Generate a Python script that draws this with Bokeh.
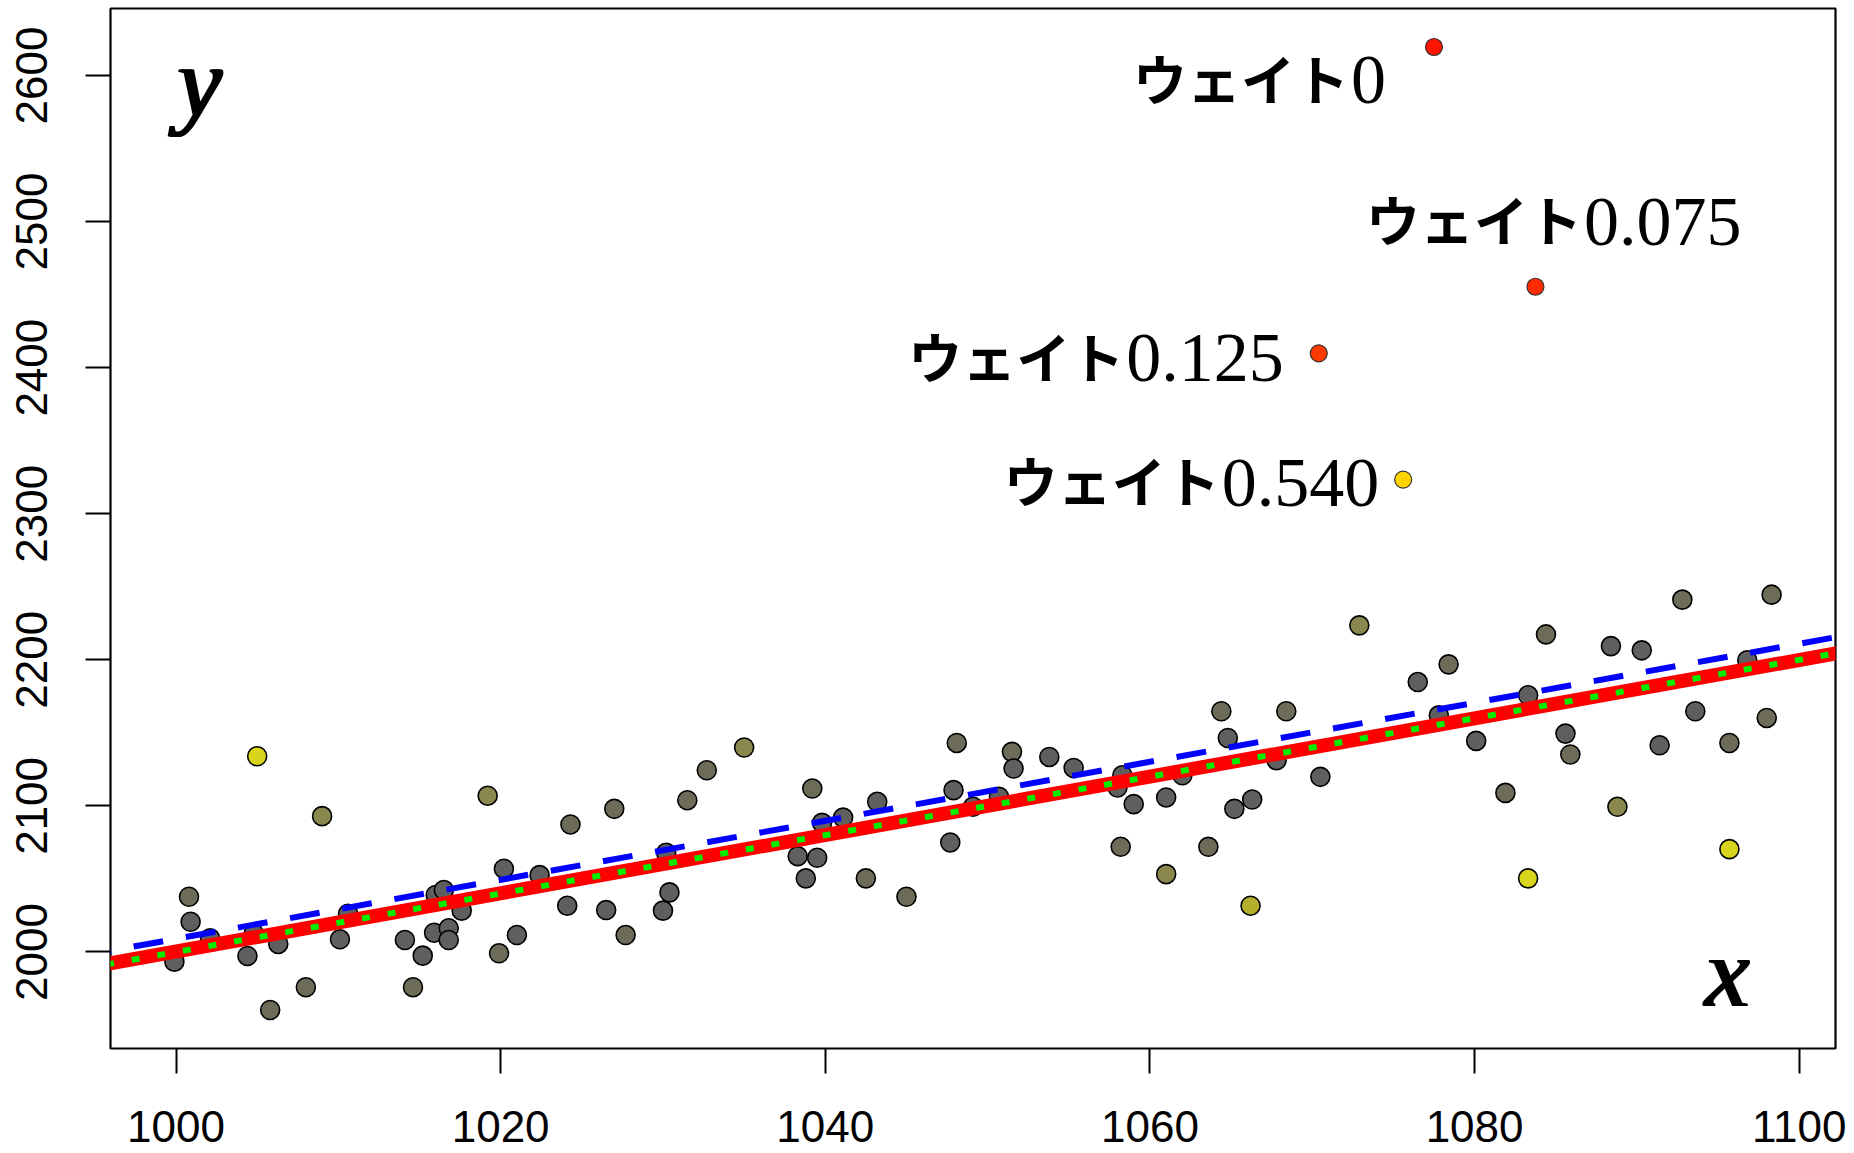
import math
from bokeh.plotting import figure
from bokeh.models import ColumnDataSource, Range1d, FixedTicker
from bokeh.core.properties import value
from bokeh.embed import file_html
from bokeh.resources import INLINE

# ---------------- data ----------------
# main cloud of points (x, y, colour class)
pt_x = [1005.0, 1009.0, 1019.2, 1020.2, 1000.8, 1000.9, 999.9, 1002.1, 1004.8, 1004.4,
        1006.3, 1005.8, 1008.0, 1010.6, 1010.1, 1014.1, 1014.6, 1015.2, 1015.9, 1016.8,
        1016.8, 1016.0, 1016.5, 1017.6, 1019.9, 1021.0, 1022.4,
        1024.3, 1027.0, 1031.5, 1032.7, 1035.0, 1024.1, 1026.5, 1027.7, 1030.2, 1030.4,
        1030.0, 1038.3, 1039.5, 1038.8, 1039.2, 1039.8, 1041.1, 1043.2, 1042.5, 1045.0,
        1048.1, 1047.9, 1049.1, 1047.7,
        1050.7, 1051.5, 1051.6, 1053.8, 1055.3, 1058.0, 1058.3, 1059.0, 1061.0, 1062.0,
        1064.4, 1064.8, 1065.2, 1066.3, 1068.4, 1067.8, 1070.5, 1058.2, 1063.6, 1061.0,
        1066.2, 1072.9,
        1076.5, 1078.4, 1077.8, 1080.1, 1081.9, 1083.3, 1083.3, 1084.4, 1085.6, 1085.9,
        1088.4, 1088.8, 1090.3, 1091.4, 1092.8, 1093.6, 1095.7, 1095.7, 1096.8, 1098.0,
        1098.3]
pt_y = [2134.0, 2093.0, 2107.0, 2057.0, 2037.8, 2020.7, 1993.4, 2009.3, 2012.7, 1997.3,
        2005.5, 1960.3, 1975.9, 2026.1, 2008.7, 2008.2, 1975.9, 1997.5, 2013.2, 2016.2,
        2008.2, 2039.0, 2042.4, 2028.3, 1999.1, 2011.6, 2052.6,
        2087.3, 2098.0, 2103.9, 2124.4, 2140.0, 2031.7, 2028.7, 2011.6, 2067.9, 2040.8,
        2028.3, 2065.6, 2064.5, 2050.4, 2111.9, 2088.4, 2092.0, 2102.8, 2050.4, 2037.8,
        2143.1, 2110.8, 2099.4, 2075.0,
        2106.2, 2137.0, 2125.6, 2133.5, 2126.0, 2112.6, 2121.0, 2101.2, 2105.8, 2121.0,
        2164.8, 2146.5, 2098.0, 2104.4, 2164.8, 2131.3, 2119.9, 2072.0, 2072.0, 2053.3,
        2031.7, 2223.6,
        2184.8, 2196.9, 2162.0, 2144.5, 2108.9, 2050.4, 2175.7, 2217.4, 2149.5, 2135.2,
        2209.4, 2099.4, 2206.5, 2141.5, 2241.2, 2164.8, 2143.1, 2070.4, 2199.7, 2160.2,
        2244.6]
pt_cls = ["Y", "K", "K", "G", "O", "G", "G", "G", "G", "G",
          "G", "O", "O", "G", "G", "G", "O", "G", "G", "G",
          "G", "G", "G", "G", "O", "G", "G",
          "O", "O", "O", "O", "K", "G", "G", "O", "G", "G",
          "G", "G", "G", "G", "O", "G", "G", "G", "O", "O",
          "O", "G", "G", "G",
          "G", "O", "G", "G", "G", "G", "G", "G", "G", "G",
          "O", "G", "G", "G", "O", "G", "G", "O", "O", "K",
          "Y2", "K",
          "G", "O", "G", "G", "O", "Y", "G", "O", "G", "O",
          "G", "K", "G", "G", "O", "G", "O", "Y", "G", "O",
          "O"]

# outliers with their weights
out_x = [1077.5, 1083.75, 1070.4, 1075.6]
out_y = [2619.5, 2455.4, 2409.8, 2323.4]
out_weight = ["0", "0.075", "0.125", "0.540"]
out_prefix = "ウェイト"

# fitted lines: (intercept at x=1000, slope)
ols_fit = (2009.0, 2.02)       # blue dashed
wls_fit = (2000.3, 1.996)      # red solid
true_fit = (2000.0, 2.0)       # green dotted

x_ticks = [1000, 1020, 1040, 1060, 1080, 1100]
y_ticks = [2000, 2100, 2200, 2300, 2400, 2500, 2600]

# ---------------- styles ----------------
palette = {"G": "#5f5f5f", "O": "#6d6c58", "K": "#8a874f",
           "Y": "#d8d51c", "Y2": "#b5b02c"}
out_colors = ["#ff1400", "#ff2a00", "#ff3a00", "#ffd300"]

# R-style 4% range padding
all_x = pt_x + out_x
all_y = pt_y + out_y
dx = (max(all_x) - min(all_x)) * 0.04
dy = (max(all_y) - min(all_y)) * 0.04
x0, x1 = min(all_x) - dx, max(all_x) + dx
y0, y1 = min(all_y) - dy, max(all_y) + dy

p = figure(width=1854, height=1153, output_backend="svg", toolbar_location=None,
           x_range=Range1d(x0, x1), y_range=Range1d(y0, y1),
           min_border_left=110, min_border_right=19, min_border_top=8,
           min_border_bottom=105)
p.grid.visible = False
p.outline_line_color = "black"
p.outline_line_width = 2.2
p.background_fill_color = "white"
p.border_fill_color = "white"

for ax, ticks in ((p.xaxis[0], x_ticks), (p.yaxis[0], y_ticks)):
    ax.ticker = FixedTicker(ticks=ticks)
    ax.axis_line_color = None
    ax.major_tick_line_color = "black"
    ax.major_tick_line_width = 2
    ax.major_tick_out = 25
    ax.major_tick_in = 0
    ax.minor_tick_line_color = None
    ax.major_label_text_font = "Liberation Sans"
    ax.major_label_text_font_size = "44px"
    ax.major_label_text_color = "black"
p.xaxis[0].major_label_standoff = 37
p.yaxis[0].major_label_standoff = 38
p.yaxis[0].major_label_orientation = "vertical"

# points
src = ColumnDataSource(dict(x=pt_x, y=pt_y, c=[palette[k] for k in pt_cls]))
p.scatter("x", "y", source=src, size=19, fill_color="c", line_color="black",
          line_width=1.6)
osrc = ColumnDataSource(dict(x=out_x, y=out_y, c=out_colors))
p.scatter("x", "y", source=osrc, size=17, fill_color="c", line_color="#333333",
          line_width=1.2)

# lines
lx = [x0 - 5, x1 + 5]
def line_y(fit):
    return [fit[0] + fit[1] * (v - 1000) for v in lx]

p.line(lx, line_y(ols_fit), line_color="#0000ff", line_width=6, line_dash="30 23")
p.line(lx, line_y(wls_fit), line_color="#ff0000", line_width=14)
p.line(lx, line_y(true_fit), line_color="#00ee00", line_width=6, line_dash="8 18")

# outlier labels (number in serif, katakana in bold gothic)
num_px = 70
base_shift = -23
lab_dx = [-48, 206, -35, -24]
lab_dy = [56, -42, 28, 26]
num_w = [num_px * (0.5 * sum(ch.isdigit() for ch in w) + 0.25 * w.count(".")) for w in out_weight]
lsrc = ColumnDataSource(dict(x=out_x, y=out_y, t=out_weight,
                             k=[out_prefix] * len(out_x),
                             dx=lab_dx, dy=[b + base_shift for b in lab_dy],
                             kdx=[a - w - 2 for a, w in zip(lab_dx, num_w)],
                             kdy=[b + base_shift - 3 for b in lab_dy]))
p.text("x", "y", text="t", source=lsrc, x_offset="dx", y_offset="dy",
       text_align="right", text_baseline="alphabetic",
       text_font=value("Liberation Serif"), text_font_size=f"{num_px}px",
       text_color="black")
p.text("x", "y", text="k", source=lsrc, x_offset="kdx", y_offset="kdy",
       text_align="right", text_baseline="alphabetic",
       text_font=value("Noto Sans CJK JP"), text_font_style="bold",
       text_font_size="54px", text_color="black")

# axis-name annotations inside the frame (italic, drawn thrice for a heavy stroke)
name_src = ColumnDataSource(dict(
    x=[x0 + 0.038 * (x1 - x0), x0 + 0.9235 * (x1 - x0)],
    y=[y0 + 0.897 * (y1 - y0), y0 + 0.041 * (y1 - y0)],
    t=["y", "x"]))
for off in (0.0, 1.5, 3.0):
    p.text("x", "y", text="t", source=name_src, x_offset=off, y_offset=-33,
           text_align="left", text_baseline="alphabetic",
           text_font=value("Liberation Serif"), text_font_style="italic",
           text_font_size="100px", text_color="black")

open("out.html", "w").write(file_html(p, INLINE))
